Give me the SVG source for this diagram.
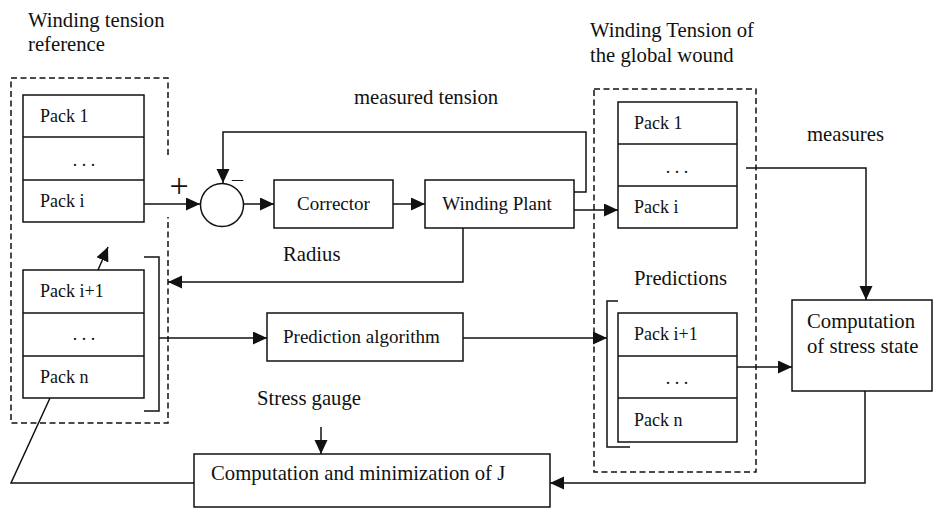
<svg xmlns="http://www.w3.org/2000/svg" width="935" height="510" viewBox="0 0 935 510">
<style>
  .box { fill: #fff; stroke: #111; stroke-width: 1.5; }
  .dash { fill: none; stroke: #111; stroke-width: 1.5; stroke-dasharray: 6 3.5; }
  .ln { fill: none; stroke: #111; stroke-width: 1.5; }
  .arr { marker-end: url(#ah); }
  text { font-family: "Liberation Serif", "Times New Roman", serif; fill: #111; }
  .lab { font-size: 20.7px; }
  .bl { font-size: 19px; }
  .pk { font-size: 18px; }
</style>
<defs>
  <marker id="ah" markerUnits="userSpaceOnUse" markerWidth="15" markerHeight="14" refX="14" refY="6.5" orient="auto">
    <path d="M0,0 L14,6.5 L0,13 z" fill="#111"/>
  </marker>
</defs>
<rect width="935" height="510" fill="#fff"/>

<g id="title-left">
  <text class="lab" x="28" y="27">Winding tension</text>
  <text class="lab" x="28" y="51">reference</text>
</g>
<g id="title-right">
  <text class="lab" x="590" y="37">Winding Tension of</text>
  <text class="lab" x="590" y="62">the global wound</text>
</g>
<g id="label-measured-tension"><text class="lab" x="354" y="104">measured tension</text></g>
<g id="label-measures"><text class="lab" x="807" y="141">measures</text></g>
<g id="label-radius"><text class="lab" x="283" y="261">Radius</text></g>
<g id="label-predictions"><text class="lab" x="634" y="285">Predictions</text></g>
<g id="label-stress-gauge"><text class="lab" x="257" y="405">Stress gauge</text></g>

<g id="reference-group">
  <path class="dash" d="M168,155 V78 H11 V423 H168 V217"/>
</g>
<g id="ref-upper">
  <rect class="box" x="23" y="95" width="121" height="127"/>
  <line class="ln" x1="23" y1="137" x2="144" y2="137"/>
  <line class="ln" x1="23" y1="180" x2="144" y2="180"/>
  <text class="pk" x="40" y="122">Pack 1</text>
  <text class="pk" x="84" y="166" text-anchor="middle">. . .</text>
  <text class="pk" x="40" y="207">Pack i</text>
</g>
<g id="ref-lower">
  <rect class="box" x="23" y="270" width="121" height="128"/>
  <line class="ln" x1="23" y1="313" x2="144" y2="313"/>
  <line class="ln" x1="23" y1="356" x2="144" y2="356"/>
  <text class="pk" x="40" y="297">Pack i+1</text>
  <text class="pk" x="84" y="340" text-anchor="middle">. . .</text>
  <text class="pk" x="40" y="383">Pack n</text>
  <path class="ln" d="M144,257 H159 V411 H144"/>
</g>

<g id="sum">
  <circle class="box" cx="222" cy="205" r="21.5"/>
  <text x="179" y="197" font-size="34" text-anchor="middle">+</text>
  <text x="232" y="186" font-size="22">–</text>
</g>
<g id="corrector">
  <rect class="box" x="274" y="180" width="119" height="48"/>
  <text class="bl" x="333.5" y="210" text-anchor="middle">Corrector</text>
</g>
<g id="winding-plant">
  <rect class="box" x="425" y="180" width="149" height="48"/>
  <text class="bl" x="497" y="210" text-anchor="middle">Winding Plant</text>
</g>
<g id="prediction-algorithm">
  <rect class="box" x="267" y="313" width="196" height="48"/>
  <text class="bl" x="283" y="343">Prediction algorithm</text>
</g>

<g id="wound-group">
  <path class="dash" d="M594,89 H756 V472 H594 Z"/>
</g>
<g id="wound-upper">
  <rect class="box" x="618" y="102" width="119" height="126"/>
  <line class="ln" x1="618" y1="144" x2="737" y2="144"/>
  <line class="ln" x1="618" y1="186" x2="737" y2="186"/>
  <text class="pk" x="634" y="129">Pack 1</text>
  <text class="pk" x="677" y="173" text-anchor="middle">. . .</text>
  <text class="pk" x="634" y="213">Pack i</text>
</g>
<g id="wound-lower">
  <rect class="box" x="618" y="313" width="119" height="129"/>
  <line class="ln" x1="618" y1="356" x2="737" y2="356"/>
  <line class="ln" x1="618" y1="398" x2="737" y2="398"/>
  <text class="pk" x="634" y="340">Pack i+1</text>
  <text class="pk" x="677" y="384" text-anchor="middle">. . .</text>
  <text class="pk" x="634" y="426">Pack n</text>
  <path class="ln" d="M618,301 H607 V447 H630"/>
</g>

<g id="stress-state">
  <rect class="box" x="792" y="300" width="140" height="91"/>
  <text class="lab" x="807" y="328">Computation</text>
  <text class="lab" x="807" y="353">of stress state</text>
</g>
<g id="computation-j">
  <rect class="box" x="194" y="454" width="356" height="53"/>
  <text class="lab" x="211" y="480">Computation and minimization of J</text>
</g>

<g id="connectors">
  <path class="ln arr" d="M144,204 H200"/>
  <path class="ln arr" d="M244,204 H274"/>
  <path class="ln arr" d="M393,204 H425"/>
  <path class="ln arr" d="M574,210 H618"/>
  <path class="ln arr" d="M574,192 H586 V132 H223 V183"/>
  <path class="ln arr" d="M463,228 V282 H168"/>
  <path class="ln arr" d="M159,338 H267"/>
  <path class="ln arr" d="M463,338 H607"/>
  <path class="ln arr" d="M737,367 H792"/>
  <path class="ln arr" d="M746,168 H866 V300"/>
  <path class="ln arr" d="M865,391 V483 H550"/>
  <path class="ln" d="M50,398 L11,483 H194"/>
  <path class="ln arr" d="M321,427 V454"/>
  <path class="ln arr" d="M98,270 L108,247"/>
</g>
</svg>
